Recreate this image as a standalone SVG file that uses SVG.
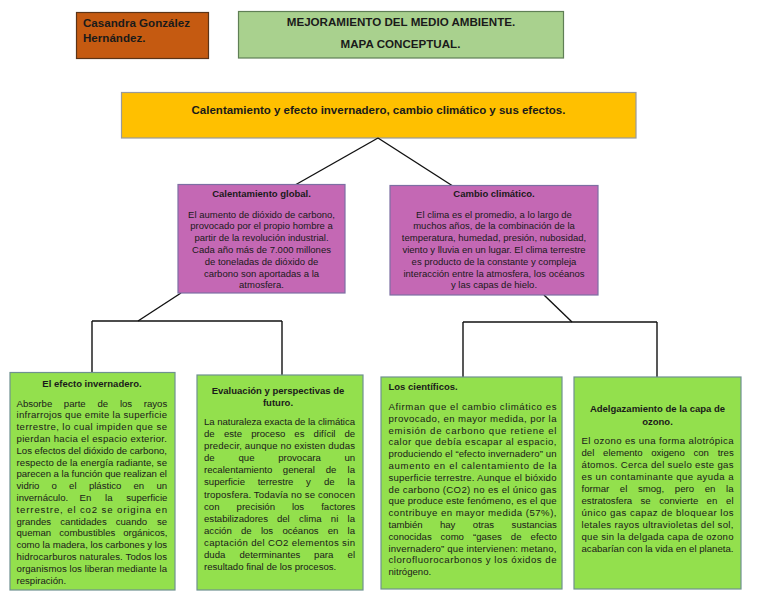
<svg xmlns="http://www.w3.org/2000/svg" width="768" height="594" viewBox="0 0 768 594">
<style>
text{font-family:"Liberation Sans",Arial,Helvetica,sans-serif;fill:#1a1a1a}
.hb{font-weight:bold}
.bd{font-size:9.6px}
.pb{font-size:9.5px}
.tt{font-size:9.5px;font-weight:bold}
.c{text-anchor:middle}
.gbox{fill:#93E04D;stroke:#6f9190;stroke-width:1.2}
.pbox{fill:#C468B4;stroke:#7d6fa3;stroke-width:1.2}
.ln{fill:none;stroke:#111;stroke-width:1.4}
</style>
<rect width="768" height="594" fill="#fff"/>

<g id="autor">
<rect x="76.5" y="12.5" width="132" height="46" fill="#C55A11" stroke="#5b3418" stroke-width="1.2"/>
<text class="hb" x="83" y="27" font-size="11.6">Casandra González</text>
<text class="hb" x="83" y="42" font-size="11.6">Hernández.</text>
</g>

<g id="titulo">
<rect x="238.5" y="11.5" width="325" height="46.5" fill="#A9D18E" stroke="#5f7f55" stroke-width="1.2"/>
<text class="hb c" x="401" y="25.5" font-size="11.6">MEJORAMIENTO DEL MEDIO AMBIENTE.</text>
<text class="hb c" x="400.5" y="47.7" font-size="11.6">MAPA CONCEPTUAL.</text>
</g>

<g id="tema">
<rect x="121.5" y="92.5" width="514.5" height="45.5" fill="#FFC000" stroke="#9a9a9a" stroke-width="1.2"/>
<text class="hb c" x="378.5" y="114" font-size="11.5">Calentamiento y efecto invernadero, cambio climático y sus efectos.</text>
</g>

<g id="conectores">
<path class="ln" d="M378,138 L296,184.5"/>
<path class="ln" d="M378,138 L452,185.5"/>
<path class="ln" d="M181,293 L138,321"/>
<path class="ln" d="M92,321 H282"/>
<path class="ln" d="M92,321 V372"/>
<path class="ln" d="M282,321 V375"/>
<path class="ln" d="M544,295 L572,322"/>
<path class="ln" d="M463,322 H657"/>
<path class="ln" d="M463,322 V377"/>
<path class="ln" d="M657,322 V377"/>
</g>

<g id="calentamiento-global">
<rect class="pbox" x="178" y="184.5" width="167" height="108.5"/>
<text class="tt c" x="261.5" y="196.5">Calentamiento global.</text>
<text class="pb c" x="261.5" y="217.5">El aumento de dióxido de carbono,</text>
<text class="pb c" x="261.5" y="229.3">provocado por el propio hombre a</text>
<text class="pb c" x="261.5" y="241.1">partir de la revolución industrial.</text>
<text class="pb c" x="261.5" y="252.9">Cada año más de 7.000 millones</text>
<text class="pb c" x="261.5" y="264.7">de toneladas de dióxido de</text>
<text class="pb c" x="261.5" y="276.5">carbono son aportadas a la</text>
<text class="pb c" x="261.5" y="288.3">atmosfera.</text>
</g>

<g id="cambio-climatico">
<rect class="pbox" x="390" y="185.5" width="208" height="109.5"/>
<text class="tt c" x="494" y="197">Cambio climático.</text>
<text class="pb c" x="494" y="217.5">El clima es el promedio, a lo largo de</text>
<text class="pb c" x="494" y="229.3">muchos años, de la combinación de la</text>
<text class="pb c" x="494" y="241.1">temperatura, humedad, presión, nubosidad,</text>
<text class="pb c" x="494" y="252.9">viento y lluvia en un lugar. El clima terrestre</text>
<text class="pb c" x="494" y="264.7">es producto de la constante y compleja</text>
<text class="pb c" x="494" y="276.5">interacción entre la atmosfera, los océanos</text>
<text class="pb c" x="494" y="288.3">y las capas de hielo.</text>
</g>

<g id="efecto-invernadero">
<rect class="gbox" x="10" y="372.5" width="165" height="217.5"/>
<text class="tt c" x="92" y="387">El efecto invernadero.</text>
<text class="bd" y="406.5"><tspan x="16.5">Absorbe</tspan><tspan x="63.8">parte</tspan><tspan x="97.4">de</tspan><tspan x="119.9">los</tspan><tspan x="143.8">rayos</tspan></text>
<text class="bd" x="16.5" y="418.3" textLength="150.5" lengthAdjust="spacing">infrarrojos que emite la superficie</text>
<text class="bd" x="16.5" y="430.1" textLength="150.5" lengthAdjust="spacing">terrestre, lo cual impiden que se</text>
<text class="bd" x="16.5" y="441.9" textLength="150.5" lengthAdjust="spacing">pierdan hacia el espacio exterior.</text>
<text class="bd" x="16.5" y="453.7" textLength="150.5" lengthAdjust="spacing">Los efectos del dióxido de carbono,</text>
<text class="bd" x="16.5" y="465.5" textLength="150.5" lengthAdjust="spacing">respecto de la energía radiante, se</text>
<text class="bd" x="16.5" y="477.3" textLength="150.5" lengthAdjust="spacing">parecen a la función que realizan el</text>
<text class="bd" y="489.1"><tspan x="16.5">vidrio</tspan><tspan x="51.5">o</tspan><tspan x="69.1">el</tspan><tspan x="88.9">plástico</tspan><tspan x="133.4">en</tspan><tspan x="156.4">un</tspan></text>
<text class="bd" y="500.9"><tspan x="16.5">invernáculo.</tspan><tspan x="79.5">En</tspan><tspan x="105">la</tspan><tspan x="126.3">superficie</tspan></text>
<text class="bd" x="16.5" y="512.7" textLength="150.5" lengthAdjust="spacing">terrestre, el co2  se origina en</text>
<text class="bd" y="524.5"><tspan x="16.5">grandes</tspan><tspan x="60.3">cantidades</tspan><tspan x="115.7">cuando</tspan><tspan x="157">se</tspan></text>
<text class="bd" y="536.3"><tspan x="16.5">queman</tspan><tspan x="59.3">combustibles</tspan><tspan x="123.2">orgánicos,</tspan></text>
<text class="bd" x="16.5" y="548.1" textLength="150.5" lengthAdjust="spacing">como la madera, los carbones y los</text>
<text class="bd" x="16.5" y="559.9" textLength="150.5" lengthAdjust="spacing">hidrocarburos naturales. Todos los</text>
<text class="bd" x="16.5" y="571.7" textLength="150.5" lengthAdjust="spacing">organismos los liberan mediante la</text>
<text class="bd" x="16.5" y="583.5">respiración.</text>
</g>

<g id="evaluacion">
<rect class="gbox" x="197" y="375" width="166" height="215"/>
<text class="tt c" x="278" y="394">Evaluación y perspectivas de</text>
<text class="tt c" x="278" y="405.5">futuro.</text>
<text class="bd" x="204" y="425" textLength="151" lengthAdjust="spacing">La naturaleza exacta de la climática</text>
<text class="bd" y="437.1"><tspan x="204">de</tspan><tspan x="223.9">este</tspan><tspan x="251.2">proceso</tspan><tspan x="294.3">es</tspan><tspan x="313.6">difícil</tspan><tspan x="344.4">de</tspan></text>
<text class="bd" x="204" y="449.2" textLength="151" lengthAdjust="spacing">predecir, aunque no existen dudas</text>
<text class="bd" y="461.2"><tspan x="204">de</tspan><tspan x="238.5">que</tspan><tspan x="278.2">provocara</tspan><tspan x="344.4">un</tspan></text>
<text class="bd" y="473.3"><tspan x="204">recalentamiento</tspan><tspan x="282.8">general</tspan><tspan x="325.7">de</tspan><tspan x="347.6">la</tspan></text>
<text class="bd" y="485.4"><tspan x="204">superficie</tspan><tspan x="257.7">terrestre</tspan><tspan x="306.1">y</tspan><tspan x="323.9">de</tspan><tspan x="347.6">la</tspan></text>
<text class="bd" x="204" y="497.5" textLength="151" lengthAdjust="spacing">troposfera. Todavía no se conocen</text>
<text class="bd" y="509.6"><tspan x="204">con</tspan><tspan x="236.6">precisión</tspan><tspan x="291.9">los</tspan><tspan x="321.2">factores</tspan></text>
<text class="bd" y="521.6"><tspan x="204">estabilizadores</tspan><tspan x="276.9">del</tspan><tspan x="299.1">clima</tspan><tspan x="330.8">ni</tspan><tspan x="347.6">la</tspan></text>
<text class="bd" y="533.7"><tspan x="204">acción</tspan><tspan x="240.9">de</tspan><tspan x="260.9">los</tspan><tspan x="282.4">océanos</tspan><tspan x="327.7">en</tspan><tspan x="347.6">la</tspan></text>
<text class="bd" x="204" y="545.8" textLength="151" lengthAdjust="spacing">captación del CO2 elementos sin</text>
<text class="bd" y="557.9"><tspan x="204">duda</tspan><tspan x="239.5">determinantes</tspan><tspan x="314.1">para</tspan><tspan x="347.6">el</tspan></text>
<text class="bd" x="204" y="570">resultado final de los procesos.</text>
</g>

<g id="cientificos">
<rect class="gbox" x="381" y="377" width="181" height="212"/>
<text class="tt" x="388.5" y="390">Los científicos.</text>
<text class="bd" x="388.5" y="410" textLength="168" lengthAdjust="spacing">Afirman  que el cambio climático es</text>
<text class="bd" x="388.5" y="421.8" textLength="168" lengthAdjust="spacing">provocado, en mayor medida, por la</text>
<text class="bd" x="388.5" y="433.6" textLength="168" lengthAdjust="spacing">emisión de carbono que retiene el</text>
<text class="bd" x="388.5" y="445.4" textLength="168" lengthAdjust="spacing">calor que debía escapar al espacio,</text>
<text class="bd" x="388.5" y="457.2" textLength="168" lengthAdjust="spacing">produciendo el “efecto invernadero” un</text>
<text class="bd" x="388.5" y="469" textLength="168" lengthAdjust="spacing">aumento en el calentamiento de la</text>
<text class="bd" x="388.5" y="480.8" textLength="168" lengthAdjust="spacing">superficie terrestre. Aunque el bióxido</text>
<text class="bd" x="388.5" y="492.6" textLength="168" lengthAdjust="spacing">de carbono  (CO2) no es el único gas</text>
<text class="bd" x="388.5" y="504.4" textLength="168" lengthAdjust="spacing">que produce este fenómeno, es el que</text>
<text class="bd" x="388.5" y="516.2" textLength="168" lengthAdjust="spacing">contribuye en mayor medida (57%),</text>
<text class="bd" y="528"><tspan x="388.5">también</tspan><tspan x="439.9">hay</tspan><tspan x="472.8">otras</tspan><tspan x="511.6">sustancias</tspan></text>
<text class="bd" y="539.8"><tspan x="388.5">conocidas</tspan><tspan x="440.5">como</tspan><tspan x="473">“gases</tspan><tspan x="510.8">de</tspan><tspan x="530.6">efecto</tspan></text>
<text class="bd" x="388.5" y="551.6" textLength="168" lengthAdjust="spacing">invernadero” que intervienen: metano,</text>
<text class="bd" x="388.5" y="563.4" textLength="168" lengthAdjust="spacing">clorofluorocarbonos y los óxidos de</text>
<text class="bd" x="388.5" y="575.2">nitrógeno.</text>
</g>

<g id="ozono">
<rect class="gbox" x="574" y="377" width="167" height="212"/>
<text class="tt c" x="657.5" y="411.5">Adelgazamiento de la capa de</text>
<text class="tt c" x="657.5" y="424.5">ozono.</text>
<text class="bd" x="581.5" y="443.5" textLength="152" lengthAdjust="spacing">El ozono es una forma alotrópica</text>
<text class="bd" y="455.5"><tspan x="581.5">del</tspan><tspan x="603.1">elemento</tspan><tspan x="651.2">oxigeno</tspan><tspan x="693.4">con</tspan><tspan x="717.7">tres</tspan></text>
<text class="bd" x="581.5" y="467.5" textLength="152" lengthAdjust="spacing">átomos. Cerca del suelo este gas</text>
<text class="bd" x="581.5" y="479.5" textLength="152" lengthAdjust="spacing">es un contaminante que ayuda a</text>
<text class="bd" y="491.5"><tspan x="581.5">formar</tspan><tspan x="619.8">el</tspan><tspan x="638">smog,</tspan><tspan x="674.8">pero</tspan><tspan x="704.7">en</tspan><tspan x="726.1">la</tspan></text>
<text class="bd" y="503.5"><tspan x="581.5">estratosfera</tspan><tspan x="640.5">se</tspan><tspan x="659.3">convierte</tspan><tspan x="706.6">en</tspan><tspan x="726.1">el</tspan></text>
<text class="bd" x="581.5" y="515.5" textLength="152" lengthAdjust="spacing">único gas capaz de bloquear los</text>
<text class="bd" x="581.5" y="527.5" textLength="152" lengthAdjust="spacing">letales rayos ultravioletas del sol,</text>
<text class="bd" x="581.5" y="539.5" textLength="152" lengthAdjust="spacing">que sin la delgada capa de ozono</text>
<text class="bd" x="581.5" y="551.5" textLength="152" lengthAdjust="spacing">acabarían con la vida en el planeta.</text>
</g>
</svg>
